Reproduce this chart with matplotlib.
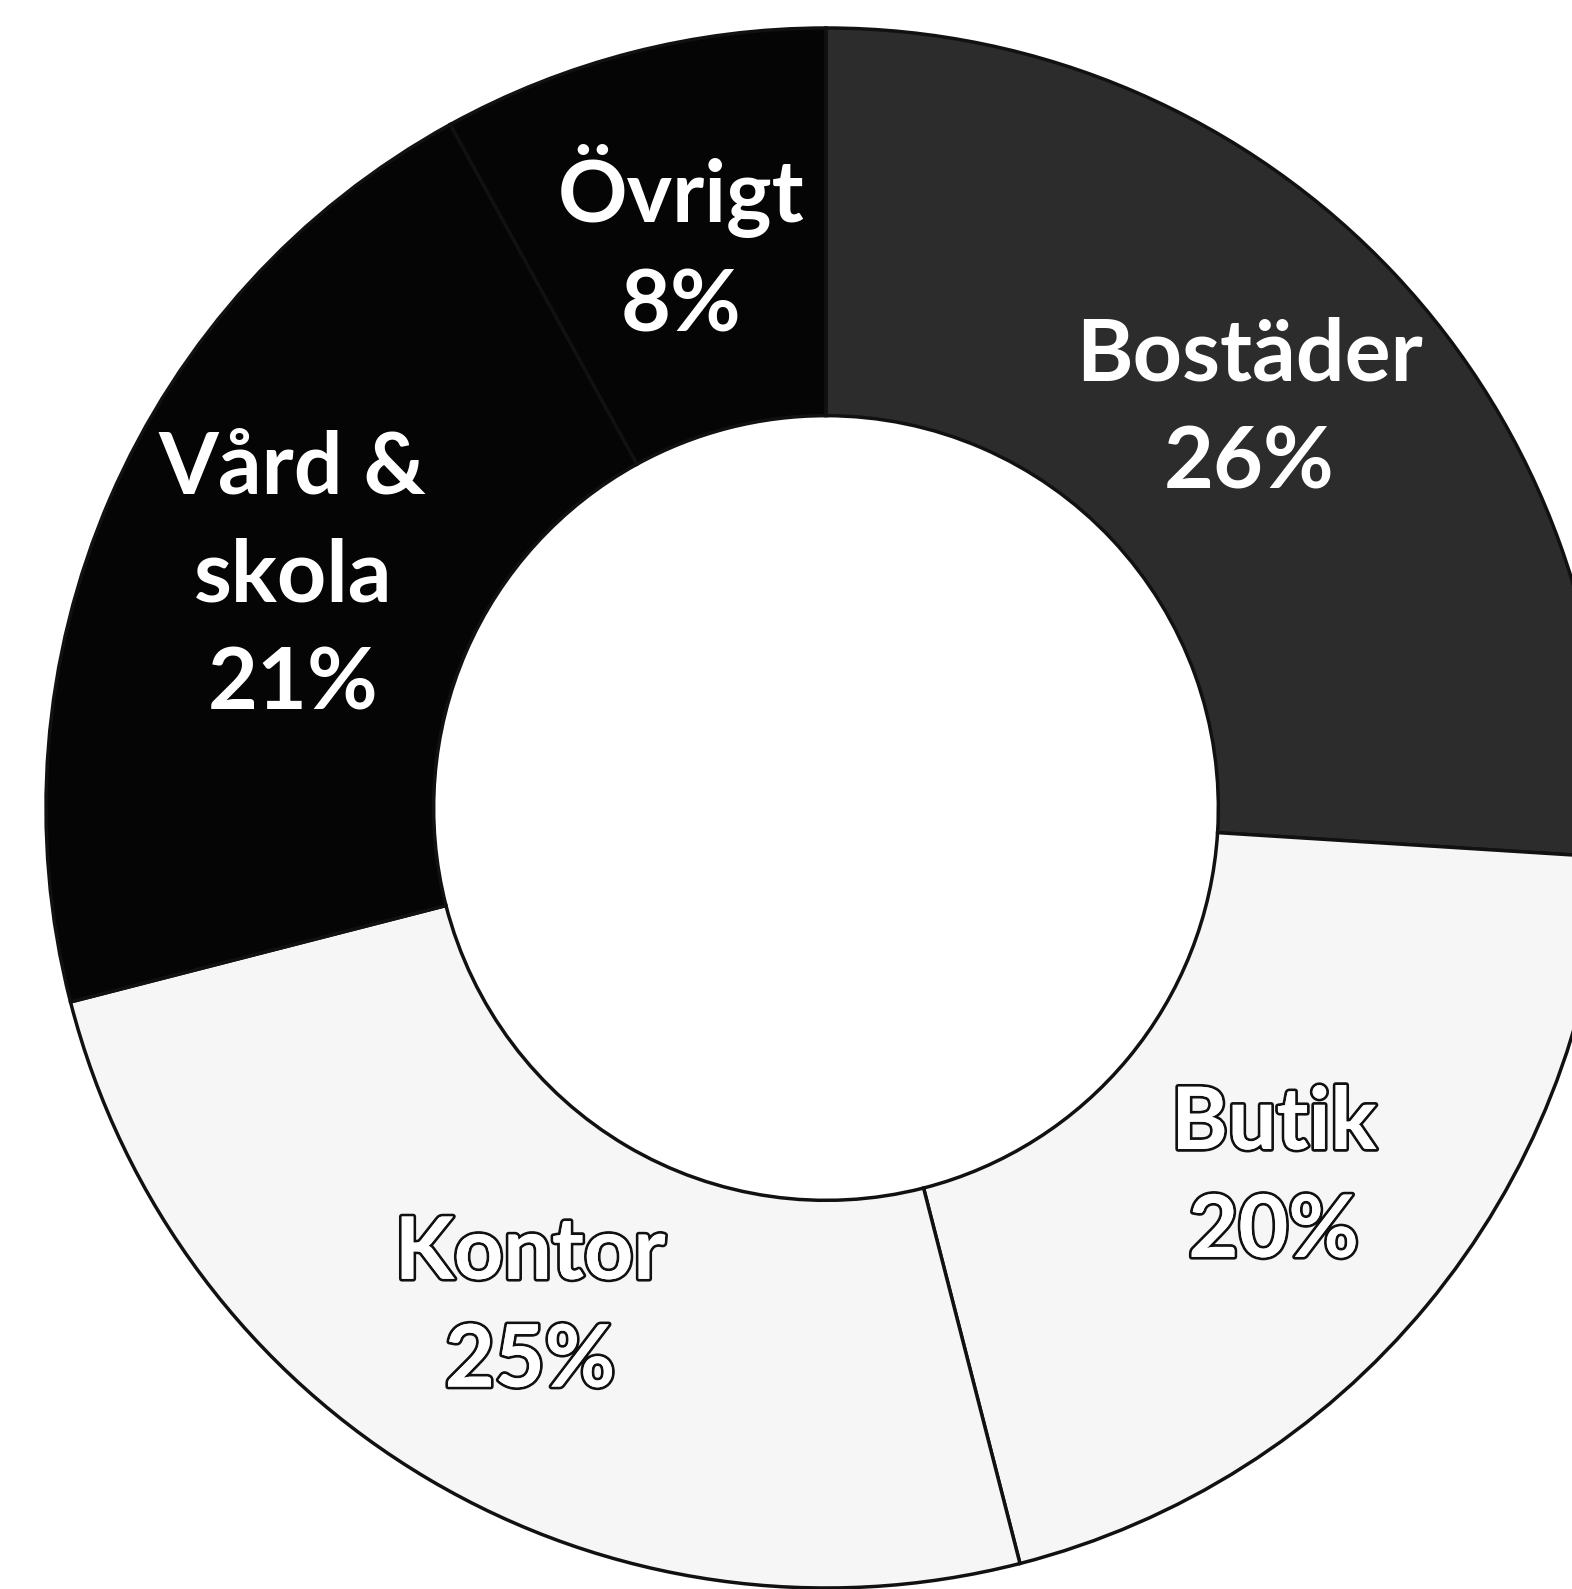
import matplotlib
matplotlib.use("Agg")
import matplotlib.pyplot as plt
import matplotlib.patheffects as pe
import numpy as np

# data, clockwise from the top
categories = ["Bostäder", "Butik", "Kontor", "Vård &\nskola", "Övrigt"]
shares = [26, 20, 25, 21, 8]
colors = ["#2c2c2c", "#f6f6f6", "#f6f6f6", "#050505", "#050505"]
hollow = [False, True, True, False, False]

fig = plt.figure(figsize=(15.72, 15.89), dpi=100)
ax = fig.add_axes([0, 0, 1, 1])
ax.set_facecolor("white")

wedges, _ = ax.pie(shares, colors=colors, startangle=90, counterclock=False,
                   radius=1.0,
                   wedgeprops=dict(width=0.497, edgecolor="#111111", linewidth=2.5))

# labels sit in the middle of the ring
for w, name, val, hol in zip(wedges, categories, shares, hollow):
    mid = np.deg2rad((w.theta1 + w.theta2) / 2)
    r = 0.745
    x, y = r * np.cos(mid), r * np.sin(mid)
    t = ax.text(x, y, f"{name}\n{val}%", ha="center", va="center",
                fontsize=62, fontweight="bold", family="Lato",
                color="white", linespacing=1.45)
    if hol:
        t.set_path_effects([pe.withStroke(linewidth=4, foreground="#111111"),
                            pe.Normal()])

# donut centre sits at pixel (826, 808), outer radius 780 px
cx, cy, R = 826, 808, 780
ax.set_xlim(-cx / R, (1572 - cx) / R)
ax.set_ylim(-(1589 - cy) / R, cy / R)
ax.set_aspect("equal")
ax.axis("off")

fig.savefig("out.png", dpi=100, facecolor="white")
